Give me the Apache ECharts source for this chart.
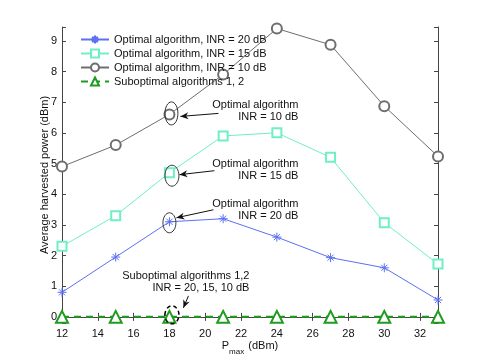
<!DOCTYPE html>
<html>
<head>
<meta charset="utf-8">
<script src="https://cdn.jsdelivr.net/npm/echarts@6/dist/echarts.min.js"></script>
<style>
  html, body { margin: 0; padding: 0; background: #fff; }
  #chart { width: 485px; height: 363px; }
</style>
</head>
<body>
<div id="chart"></div>
<script>
// P_max (dBm)
const pmax = [12, 15, 18, 21, 24, 27, 30, 33]
// average harvested power (dBm)
const inr20 = [0.8, 1.95, 3.1, 3.2, 2.6, 1.93, 1.6, 0.55]
const inr15 = [2.3, 3.3, 4.7, 5.9, 6.0, 5.2, 3.07, 1.72]
const inr10 = [4.9, 5.6, 6.6, 7.9, 9.4, 8.87, 6.87, 5.23]
const subopt = [0, 0, 0, 0, 0, 0, 0, 0]
const names = [
  'Optimal algorithm, INR = 20 dB',
  'Optimal algorithm, INR = 15 dB',
  'Optimal algorithm, INR = 10 dB',
  'Suboptimal algorithms 1, 2'
]

const font = 'Liberation Sans, Arial, Helvetica, sans-serif'
const axisColor = '#444'
const asterisk = 'path://M5,0L5,10M0,5L10,5M1.6,1.6L8.4,8.4M1.6,8.4L8.4,1.6'

function pairs(ys) {
  return pmax.map((x, i) => [x, ys[i]])
}

const chart = echarts.init(document.getElementById('chart'))

// y range is a little wider than 0..9 (MATLAB auto limits), ticks come at whole numbers
const yAxisBase = {
  type: 'value',
  min: -0.2,
  max: 9.45,
  splitNumber: 10,
  splitLine: { show: false }
}

const option = {
  animation: false,
  backgroundColor: '#fff',
  textStyle: { fontFamily: font },
  grid: { left: 62, right: 47, top: 27, bottom: 40 },
  legend: {
    orient: 'vertical',
    left: 75,
    top: 29,
    itemWidth: 28,
    itemHeight: 10,
    itemGap: 3,
    textStyle: { fontSize: 11, color: '#111', fontFamily: font },
    data: names
  },
  xAxis: [
    {
      type: 'value',
      min: 12,
      max: 33,
      interval: 2,
      name: '{a|P}{b|max}{a| (dBm)}',
      nameLocation: 'middle',
      nameGap: 13,
      nameMoveOverlap: false,
      nameTextStyle: {
        rich: {
          a: { fontSize: 11, color: '#111', fontFamily: font },
          b: { fontSize: 8, color: '#111', fontFamily: font, padding: [12, 1, 0, 0] }
        }
      },
      axisLine: { lineStyle: { color: axisColor } },
      axisTick: { inside: true, length: 4, lineStyle: { color: axisColor } },
      axisLabel: { showMaxLabel: false, fontSize: 11, color: '#111', margin: 5 },
      splitLine: { show: false }
    },
    {
      type: 'value',
      position: 'top',
      min: 12,
      max: 33,
      interval: 2,
      axisLine: { lineStyle: { color: axisColor } },
      axisTick: { inside: true, length: 4, lineStyle: { color: axisColor } },
      axisLabel: { show: false },
      splitLine: { show: false }
    }
  ],
  yAxis: [
    Object.assign({}, yAxisBase, {
      name: 'Average harvested power (dBm)',
      nameLocation: 'middle',
      nameGap: 12,
      nameMoveOverlap: false,
      nameTextStyle: { fontSize: 11, color: '#111' },
      axisLine: { show: true, lineStyle: { color: axisColor } },
      axisTick: { show: true, inside: true, length: 4, lineStyle: { color: axisColor } },
      axisLabel: {
        fontSize: 11, color: '#111', margin: 5,
        formatter: v => (Math.abs(v - Math.round(v)) < 1e-6 ? String(Math.round(v)) : '')
      }
    }),
    Object.assign({}, yAxisBase, {
      position: 'right',
      axisLine: { show: true, lineStyle: { color: axisColor } },
      axisTick: { show: true, inside: true, length: 4, lineStyle: { color: axisColor } },
      axisLabel: { show: false }
    })
  ],
  series: [
    {
      name: names[0],
      type: 'line',
      data: pairs(inr20),
      symbol: asterisk,
      symbolSize: 9,
      lineStyle: { color: '#5b70f3', width: 1 },
      itemStyle: { color: '#5b70f3', borderColor: '#5b70f3', borderWidth: 1 }
    },
    {
      name: names[1],
      type: 'line',
      data: pairs(inr15),
      symbol: 'emptyRect',
      symbolSize: 9,
      lineStyle: { color: '#6ff0c4', width: 1 },
      itemStyle: { color: '#6ff0c4', borderWidth: 1 }
    },
    {
      name: names[2],
      type: 'line',
      data: pairs(inr10),
      symbol: 'emptyCircle',
      symbolSize: 10,
      lineStyle: { color: '#6e6e6e', width: 1 },
      itemStyle: { color: '#6e6e6e', borderWidth: 1 }
    },
    {
      name: names[3],
      type: 'line',
      data: pairs(subopt),
      symbol: 'emptyTriangle',
      symbolSize: 12,
      lineStyle: { color: '#1f9c1f', width: 2, type: [7, 5] },
      itemStyle: { color: '#1f9c1f', borderWidth: 2 }
    }
  ]
}

chart.setOption(option)

// annotations: ellipse round a point, arrow from the label to it
const notes = [
  { at: [18, inr10[2]], lines: 'Optimal algorithm\nINR = 10 dB', dashed: false,
    off: [2, -1], r: [6.5, 11.5], text: [129, -3], tail: [49, -1], tip: [11, 2] },
  { at: [18, inr15[2]], lines: 'Optimal algorithm\nINR = 15 dB', dashed: false,
    off: [2.5, 3], r: [7, 10.5], text: [129, -3], tail: [45, -2], tip: [10, 2] },
  { at: [18, inr20[2]], lines: 'Optimal algorithm\nINR = 20 dB', dashed: false,
    off: [0, 1], r: [6.5, 10], text: [129, -12], tail: [44, -12], tip: [7, -4] },
  { at: [18, subopt[2]], lines: 'Suboptimal algorithms 1,2\nINR = 20, 15, 10 dB', dashed: true,
    off: [2.5, -2], r: [7, 9], text: [80, -35], tail: [19, -21], tip: [14, -9] }
]

function arrowHead(tail, tip) {
  const dx = tip[0] - tail[0]
  const dy = tip[1] - tail[1]
  const len = Math.sqrt(dx * dx + dy * dy)
  const ux = dx / len
  const uy = dy / len
  const px = -uy
  const py = ux
  const L = 8
  const W = 3.5
  const back = [tip[0] - ux * L, tip[1] - uy * L]
  const notch = [tip[0] - ux * L * 0.7, tip[1] - uy * L * 0.7]
  return [
    tip,
    [back[0] + px * W, back[1] + py * W],
    notch,
    [back[0] - px * W, back[1] - py * W]
  ]
}

const graphics = []
notes.forEach(n => {
  const p = chart.convertToPixel({ xAxisIndex: 0, yAxisIndex: 0 }, n.at)
  graphics.push({
    type: 'ellipse',
    shape: { cx: p[0] + n.off[0], cy: p[1] + n.off[1], rx: n.r[0], ry: n.r[1] },
    style: { fill: 'none', stroke: n.dashed ? '#000' : '#333', lineWidth: n.dashed ? 1.5 : 1, lineDash: n.dashed ? [4, 3] : null },
    z: 10
  })
  const tail = [p[0] + n.tail[0], p[1] + n.tail[1]]
  const tip = [p[0] + n.tip[0], p[1] + n.tip[1]]
  graphics.push({
    type: 'line',
    shape: { x1: tail[0], y1: tail[1], x2: tip[0], y2: tip[1] },
    style: { stroke: '#111', lineWidth: 1 },
    z: 10
  })
  graphics.push({
    type: 'polygon',
    shape: { points: arrowHead(tail, tip) },
    style: { fill: '#111' },
    z: 10
  })
  graphics.push({
    type: 'text',
    x: p[0] + n.text[0],
    y: p[1] + n.text[1],
    style: {
      text: n.lines,
      fill: '#111',
      font: '11px ' + font,
      align: 'right',
      verticalAlign: 'middle',
      lineHeight: 12
    },
    z: 10
  })
})

chart.setOption({ graphic: graphics })
</script>
</body>
</html>
